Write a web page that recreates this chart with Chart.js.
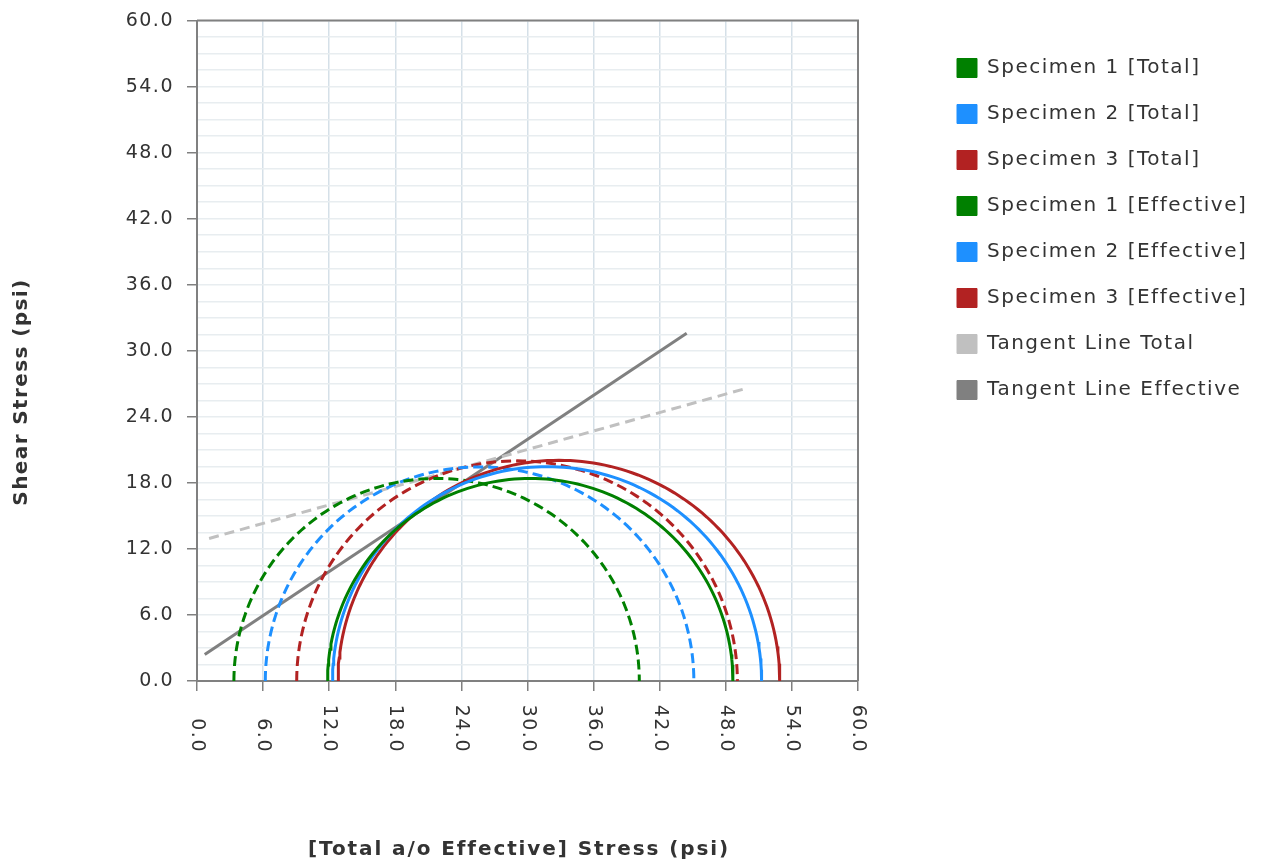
<!DOCTYPE html>
<html>
<head>
<meta charset="utf-8">
<title>Mohr Circles</title>
<script src="https://cdn.jsdelivr.net/npm/chart.js@4.4.1/dist/chart.umd.min.js"></script>
<style>
  html, body { margin: 0; padding: 0; background: #fff; }
  #chart { display: block; }
</style>
</head>
<body>
<canvas id="chart" width="1265" height="867"></canvas>
<script>
// principal stresses (psi)
const specimenNames = ['Specimen 1', 'Specimen 2', 'Specimen 3'];
const totalSigma3 = [11.85, 12.3, 12.8];
const totalSigma1 = [48.65, 51.25, 52.9];
const effSigma3 = [3.35, 6.2, 9.05];
const effSigma1 = [40.15, 45.1, 49.05];

// tangent line end points
const tangentTotalX = [1.1, 49.9];
const tangentTotalY = [12.95, 26.6];
const tangentEffX = [0.7, 44.45];
const tangentEffY = [2.4, 31.6];

const stressMax = 60;
const xStep = 6;
const yStep = 1.5;
const xTitle = '[Total a/o Effective] Stress (psi)';
const yTitle = 'Shear Stress (psi)';

const specimenColors = ['#008000', '#1e90ff', '#b22222'];
const FONT = '"DejaVu Sans", Verdana, sans-serif';
const PLOT_TOP = 18;
const PLOT_RIGHT = 858;
const LEGEND_GAP = 73; // space between plot and legend
const LEGEND_FIRST = 58; // top of first legend row

// semicircle from sigma3 and sigma1
function mohrArc(s3, s1) {
  const c = (s1 + s3) / 2, r = (s1 - s3) / 2;
  const pts = [];
  for (let i = 0; i <= 120; i++) {
    const a = Math.PI - Math.PI * i / 120;
    pts.push({ x: c + r * Math.cos(a), y: r * Math.sin(a) });
  }
  return pts;
}

const datasets = [];
specimenNames.forEach((name, i) => {
  datasets.push({
    label: name + ' [Total]',
    data: mohrArc(totalSigma3[i], totalSigma1[i]),
    borderColor: specimenColors[i],
    backgroundColor: specimenColors[i],
    borderWidth: 3
  });
});
specimenNames.forEach((name, i) => {
  datasets.push({
    label: name + ' [Effective]',
    data: mohrArc(effSigma3[i], effSigma1[i]),
    borderColor: specimenColors[i],
    backgroundColor: specimenColors[i],
    borderWidth: 3,
    borderDash: [10, 5]
  });
});
datasets.push({
  label: 'Tangent Line Total',
  data: tangentTotalX.map((x, i) => ({ x, y: tangentTotalY[i] })),
  borderColor: '#c0c0c0',
  backgroundColor: '#c0c0c0',
  borderWidth: 3,
  borderDash: [10, 6]
});
datasets.push({
  label: 'Tangent Line Effective',
  data: tangentEffX.map((x, i) => ({ x, y: tangentEffY[i] })),
  borderColor: '#808080',
  backgroundColor: '#808080',
  borderWidth: 3
});

const isMajor = v => Math.abs(v / xStep - Math.round(v / xStep)) < 1e-6;

// text spacing + frame + rotated x labels + axis titles
const decor = {
  id: 'decor',
  beforeUpdate(chart) { chart.ctx.letterSpacing = '1.5px'; },
  beforeLayout(chart) { chart.ctx.letterSpacing = '1.5px'; },
  afterLayout(chart) {
    // push legend away from the plot, let it use the rest of the canvas
    chart.legend.left += LEGEND_GAP;
    chart.legend.right = chart.width;
  },
  beforeDraw(chart) { chart.ctx.letterSpacing = '1.5px'; },
  afterDraw(chart) {
    const { ctx, chartArea: a, scales: { x } } = chart;
    ctx.save();
    ctx.strokeStyle = '#808080';
    ctx.lineWidth = 2;
    ctx.beginPath();
    ctx.moveTo(a.left, a.top);
    ctx.lineTo(a.right, a.top);
    ctx.lineTo(a.right, a.bottom);
    ctx.stroke();

    ctx.fillStyle = '#333';
    ctx.letterSpacing = '1.5px';
    ctx.font = '19px ' + FONT;
    ctx.textAlign = 'right';
    ctx.textBaseline = 'middle';
    x.ticks.forEach((t, i) => {
      ctx.save();
      ctx.translate(x.getPixelForTick(i), a.bottom + 72);
      ctx.rotate(Math.PI / 2);
      ctx.fillText(t.value.toFixed(1), 0, 0);
      ctx.restore();
    });

    ctx.font = 'bold 20px ' + FONT;
    ctx.textAlign = 'center';
    ctx.letterSpacing = '1.9px';
    ctx.fillText(xTitle, (a.left - 17 + a.right) / 2, 850);
    ctx.letterSpacing = '1.4px';
    ctx.translate(22, 392);
    ctx.rotate(-Math.PI / 2);
    ctx.fillText(yTitle, 0, 0);
    ctx.restore();
  }
};

const chart = new Chart(document.getElementById('chart'), {
  type: 'scatter',
  data: { datasets },
  plugins: [decor],
  options: {
    responsive: false,
    animation: false,
    showLine: true,
    elements: { point: { radius: 0, hoverRadius: 0 }, line: { tension: 0 } },
    layout: { padding: { top: PLOT_TOP, left: 0, bottom: 0, right: 0 } },
    plugins: {
      tooltip: { enabled: false },
      legend: {
        position: 'right',
        align: 'start',
        title: { display: true, text: ' ', padding: 0, font: { size: 10, lineHeight: 1.4 } },
        labels: {
          boxWidth: 20,
          boxHeight: 19,
          padding: 26,
          color: '#333',
          font: { family: FONT, size: 20 },
          generateLabels(c) {
            return Chart.defaults.plugins.legend.labels.generateLabels(c).map(item => ({
              ...item, lineDash: [], lineWidth: 1
            }));
          }
        }
      }
    },
    scales: {
      x: {
        type: 'linear',
        min: 0,
        max: stressMax,
        afterFit(s) { s.height = 867 - 681; },
        ticks: { display: false, stepSize: xStep },
        grid: { color: '#d5e0e8', lineWidth: 1.5, tickColor: '#808080', tickLength: 10, tickWidth: 1.5 },
        border: { color: '#808080', width: 2 }
      },
      y: {
        type: 'linear',
        min: 0,
        max: stressMax,
        afterFit(s) { s.width = 197; },
        ticks: {
          stepSize: yStep,
          autoSkip: false,
          padding: 13,
          color: '#333',
          font: { family: FONT, size: 19, lineHeight: 0.8 },
          callback: v => isMajor(v) ? v.toFixed(1) : ''
        },
        grid: {
          color: '#e8edf0',
          lineWidth: 1.5,
          tickLength: 10,
          tickWidth: 1.5,
          tickColor: ctx => isMajor(ctx.tick.value) ? '#808080' : 'rgba(0,0,0,0)'
        },
        border: { color: '#808080', width: 2 }
      }
    }
  }
});

// nudge paddings until the plot box sits where the reference's does
for (let k = 0; k < 12; k++) {
  const pad = chart.options.layout.padding;
  const dRight = chart.chartArea.right - PLOT_RIGHT;
  const dTop = chart.chartArea.top - PLOT_TOP;
  if (Math.abs(dRight) < 0.25 && Math.abs(dTop) < 0.25) break;
  pad.right = Math.max(0, pad.right + dRight);
  pad.top = Math.max(0, pad.top - dTop);
  // keep the legend rows in place (legend top follows the top padding)
  chart.options.plugins.legend.title.font.lineHeight = (LEGEND_FIRST - 26 - pad.top) / 10;
  chart.update();
}
</script>
</body>
</html>
